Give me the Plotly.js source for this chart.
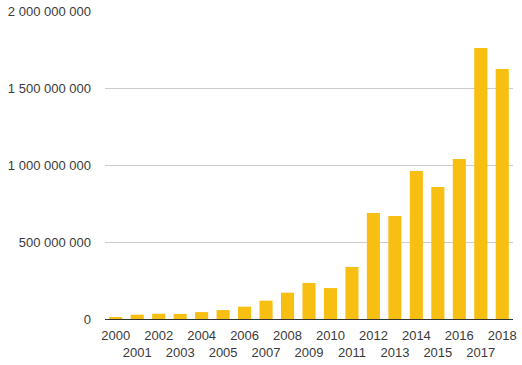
<!DOCTYPE html>
<html><head><meta charset="utf-8">
<script src="https://cdn.plot.ly/plotly-3.0.1.min.js"></script>
<style>html,body{margin:0;padding:0;background:#fff}#c{width:522px;height:365px}</style>
</head><body><div id="c"></div>
<script>
const years = ["2000","2001","2002","2003","2004","2005","2006","2007","2008","2009","2010","2011","2012","2013","2014","2015","2016","2017","2018"];
const values = [13e6,28e6,34e6,33e6,45e6,58e6,80e6,119e6,171e6,234e6,201e6,338e6,688e6,669e6,961e6,857e6,1039e6,1760e6,1623e6];
const tickLabels = years.map((y,i)=> i%2===0 ? y : "<br>"+y);
const yTicks = [0,500e6,1000e6,1500e6,2000e6];

Plotly.newPlot("c",[{
  type:"bar", x:years, y:values,
  marker:{color:"#F8BF13"}, hoverinfo:"none"
}],{
  width:522,height:365,
  margin:{l:105,r:9,t:11,b:46},
  paper_bgcolor:"#fff",plot_bgcolor:"#fff",
  separators:". ",
  bargap:0.39,
  font:{family:"Liberation Sans, Arial, sans-serif",size:13,color:"#3a3a3a"},
  xaxis:{type:"category",tickmode:"array",tickvals:years,ticktext:tickLabels,tickangle:0,
    showgrid:false,showline:true,linecolor:"#333",linewidth:1,ticks:"",zeroline:false,
    ticklabelstandoff:4,tickfont:{size:13,color:"#3a3a3a"}},
  yaxis:{range:[0,2000e6],tickmode:"array",tickvals:yTicks,tickformat:",d",
    showgrid:true,gridcolor:"#ccc",zeroline:false,showline:false,ticks:"",
    ticklabelstandoff:13,tickfont:{size:13,color:"#3a3a3a"}},
  showlegend:false
},{displayModeBar:false,staticPlot:true});
</script></body></html>
